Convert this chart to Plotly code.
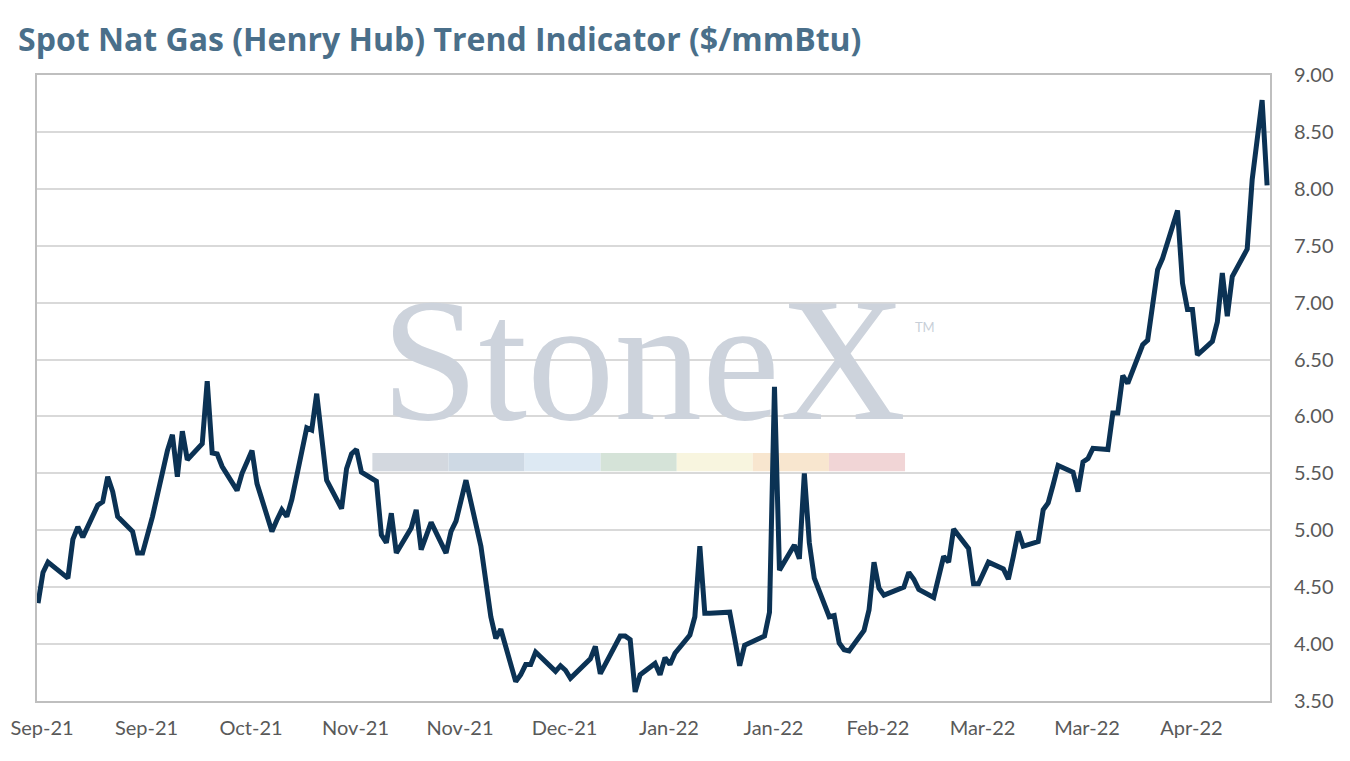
import pandas as pd
import plotly.graph_objects as go

# Henry Hub spot, $/mmBtu, by trading day
sep_days = [1, 2, 3, 7, 8, 9, 10, 13, 14, 15, 16, 17, 20, 21, 22, 23, 24, 27, 28, 29, 30]
sep_px = [4.36, 4.63, 4.72, 4.58, 4.92, 5.03, 4.94, 5.22, 5.25, 5.47, 5.34, 5.12, 4.99, 4.80, 4.80,
          4.95, 5.12, 5.70, 5.84, 5.47, 5.87]

oct_days = [1, 4, 5, 6, 7, 8, 11, 12, 13, 14, 15, 18, 19, 20, 21, 22, 25, 26, 27, 28, 29]
oct_px = [5.62, 5.76, 6.31, 5.68, 5.67, 5.56, 5.35, 5.50, 5.60, 5.70, 5.41, 4.99, 5.09, 5.18, 5.12,
          5.27, 5.90, 5.88, 6.20, 5.80, 5.44]

nov_days = [1, 2, 3, 4, 5, 8, 9, 10, 11, 12, 15, 16, 17, 18, 19, 22, 23, 24, 26, 29, 30]
nov_px = [5.19, 5.54, 5.67, 5.71, 5.51, 5.43, 4.96, 4.89, 5.15, 4.80, 5.02, 5.18, 4.83, 4.95, 5.07,
          4.80, 4.99, 5.08, 5.44, 4.86, 4.55]

dec_days = [1, 2, 3, 6, 7, 8, 9, 10, 13, 14, 15, 16, 17, 20, 21, 22, 23, 27, 28, 29, 30, 31]
dec_px = [4.24, 4.05, 4.13, 3.67, 3.73, 3.82, 3.82, 3.93, 3.80, 3.76, 3.81, 3.77, 3.70, 3.83, 3.87,
          3.98, 3.74, 4.07, 4.07, 4.04, 3.58, 3.73]

jan_days = [3, 4, 5, 6, 7, 10, 11, 12, 13, 14, 18, 19, 20, 21, 24, 25, 26, 27, 28, 31]
jan_px = [3.83, 3.73, 3.88, 3.82, 3.92, 4.08, 4.24, 4.86, 4.27, 4.27, 4.28, 4.05, 3.81, 3.99, 4.05,
          4.07, 4.28, 6.26, 4.65, 4.87]

feb_days = [1, 2, 3, 4, 7, 8, 9, 10, 11, 14, 15, 16, 17, 18, 22, 23, 24, 25, 28]
feb_px = [4.75, 5.50, 4.89, 4.58, 4.24, 4.25, 4.01, 3.95, 3.94, 4.12, 4.30, 4.72, 4.49, 4.43, 4.50,
          4.63, 4.57, 4.48, 4.41]

mar_days = [1, 2, 3, 4, 7, 8, 9, 10, 11, 14, 15, 16, 17, 18, 21, 22, 23, 24, 25, 28, 29, 30, 31]
mar_px = [4.59, 4.77, 4.72, 5.01, 4.84, 4.53, 4.53, 4.62, 4.72, 4.66, 4.57, 4.77, 4.99, 4.86, 4.90,
          5.18, 5.24, 5.40, 5.57, 5.51, 5.34, 5.60, 5.63]

apr_days = [1, 4, 5, 6, 7, 8, 11, 12, 13, 14, 15, 18, 19, 20, 21, 22, 25, 26, 27, 28, 29]
apr_px = [5.72, 5.71, 6.03, 6.03, 6.36, 6.29, 6.63, 6.67, 6.98, 7.29, 7.39, 7.81, 7.17, 6.94, 6.94,
          6.54, 6.66, 6.83, 7.26, 6.88, 7.23]

may_days = [2, 3, 4, 5, 6]
may_px = [7.47, 8.08, 8.47, 8.78, 8.03]

# watermark colour strip (logo decoration)
strip_colors = ["#D3D8DF", "#CED9E4", "#DDE9F3", "#D5E3D8", "#F8F5DF", "#F8E6CF", "#F1D5D6"]

months = [
    (2021, 9, sep_days, sep_px),
    (2021, 10, oct_days, oct_px),
    (2021, 11, nov_days, nov_px),
    (2021, 12, dec_days, dec_px),
    (2022, 1, jan_days, jan_px),
    (2022, 2, feb_days, feb_px),
    (2022, 3, mar_days, mar_px),
    (2022, 4, apr_days, apr_px),
    (2022, 5, may_days, may_px),
]

dates, prices = [], []
for year, month, days, px in months:
    dates += [pd.Timestamp(year, month, d) for d in days]
    prices += px

x_start = pd.Timestamp("2021-08-31 19:00")
x_end = pd.Timestamp("2022-05-06 14:00")
y_min, y_max = 3.5, 9.0

fig = go.Figure()

# StoneX watermark, placed relative to the axis ranges so it sits under the line
wm_x = x_start + (x_end - x_start) * 0.492
wm_y = y_min + (y_max - y_min) * 0.52
tm_x = x_start + (x_end - x_start) * 0.72
tm_y = y_min + (y_max - y_min) * 0.595
fig.add_trace(go.Scatter(
    x=[wm_x], y=[wm_y], mode="text", text=["StoneX"],
    textfont=dict(family="Liberation Serif", size=175, color="#CDD3DC"),
    hoverinfo="skip", showlegend=False,
))
fig.add_trace(go.Scatter(
    x=[tm_x], y=[tm_y], mode="text", text=["TM"],
    textfont=dict(family="Lato", size=13, color="#C8CFD8"),
    hoverinfo="skip", showlegend=False,
))

fig.add_trace(go.Scatter(
    x=dates, y=prices, mode="lines",
    line=dict(color="#0B3254", width=5),
    name="Henry Hub spot", showlegend=False,
))

# colour strip under the logo
seg_w = (0.704 - 0.272) / len(strip_colors)
for i, c in enumerate(strip_colors):
    fig.add_shape(
        type="rect", xref="paper", yref="paper", layer="below",
        x0=0.272 + i * seg_w, x1=0.272 + (i + 1) * seg_w, y0=0.367, y1=0.396,
        fillcolor=c, line=dict(width=0),
    )

# the page body has an 8px margin, so the figure is a little smaller than the window
fig.update_layout(
    width=1342, height=753,
    margin=dict(l=29, r=80, t=67, b=60),
    paper_bgcolor="white", plot_bgcolor="white",
    title=dict(
        text="Spot Nat Gas (Henry Hub) Trend Indicator ($/mmBtu)",
        x=0.0075, xanchor="left", y=0.958, yanchor="middle",
        font=dict(family="Open Sans", size=32, color="#4A6F8A", weight=700),
    ),
    xaxis=dict(
        type="date", range=[x_start, x_end], automargin=False,
        tick0="2021-09-01", dtick=21 * 24 * 3600 * 1000, tickformat="%b-%y",
        showgrid=False, showline=True, mirror=True, linecolor="#BFBFBF", linewidth=2,
        ticks="outside", ticklen=8, tickcolor="rgba(0,0,0,0)",
        ticklabeloverflow="allow", ticklabelshift=4,
        tickfont=dict(family="Lato", size=20, color="#595959"),
    ),
    yaxis=dict(
        side="right", range=[y_min, y_max], dtick=0.5, tickformat=".2f", automargin=False,
        showgrid=True, gridcolor="#D9D9D9", gridwidth=2, zeroline=False,
        showline=True, mirror=True, linecolor="#BFBFBF", linewidth=2,
        ticks="outside", ticklen=18, tickcolor="rgba(0,0,0,0)",
        tickfont=dict(family="Lato", size=20, color="#595959"),
    ),
)

fig.write_html("out.html")
